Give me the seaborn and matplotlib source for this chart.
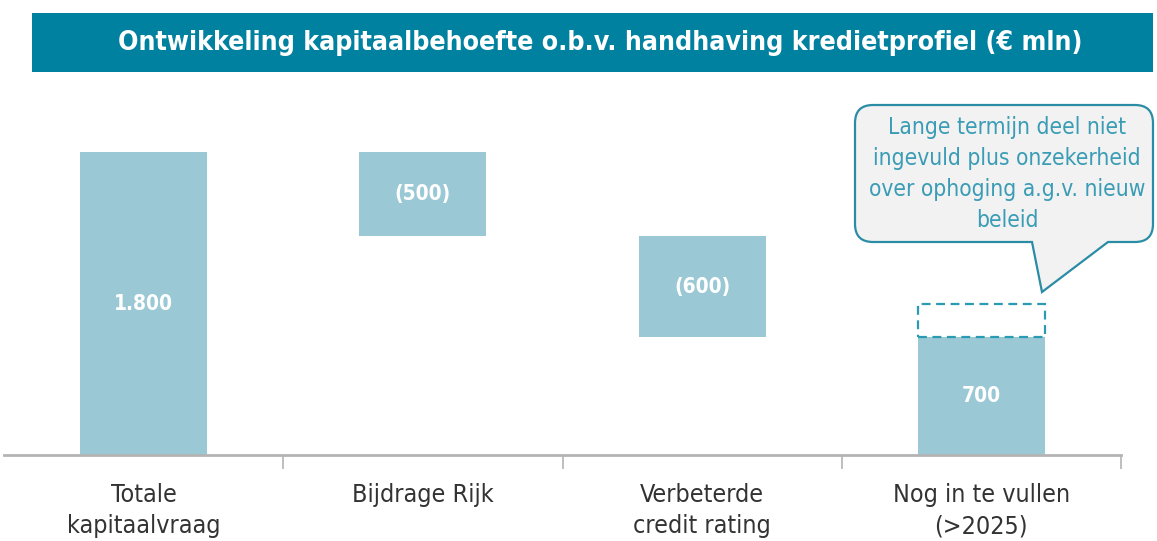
import matplotlib
matplotlib.use("Agg")
import matplotlib.pyplot as plt
from matplotlib.path import Path
from matplotlib.patches import PathPatch, Rectangle
import seaborn as sns
import pandas as pd

# ---- data ----
categories = ["Totale\nkapitaalvraag", "Bijdrage Rijk", "Verbeterde\ncredit rating", "Nog in te vullen\n(>2025)"]
values = [1800, -500, -600, 700]
value_labels = ["1.800", "(500)", "(600)", "700"]
uncertain_extra = 200
title = "Ontwikkeling kapitaalbehoefte o.b.v. handhaving kredietprofiel (€ mln)"
callout = "Lange termijn deel niet\ningevuld plus onzekerheid\nover ophoging a.g.v. nieuw\nbeleid"

# waterfall geometry derived from values
bottoms, tops = [], []
running = 0
for i, v in enumerate(values):
    if i == 0 or i == len(values) - 1:
        b, t = 0, abs(v)
        running = abs(v)
    else:
        t = running
        b = running + v
        running = b
    bottoms.append(b)
    tops.append(t)

df = pd.DataFrame({"cat": categories, "top": tops, "bottom": bottoms})

sns.set_theme(style="white")
plt.rcParams["font.family"] = ["DejaVu Sans"]

W, H = 1157, 541
fig = plt.figure(figsize=(W / 100, H / 100), dpi=100)
ax = fig.add_axes([4 / W, 1 - 455 / H, 1117 / W, (455 - 80) / H])

bar_color = "#9AC9D5"
teal = "#0081A0"
sns.barplot(data=df, x="cat", y="top", color=bar_color, width=0.455,
            saturation=1, linewidth=0, ax=ax)
sns.barplot(data=df, x="cat", y="bottom", color="white", width=0.455,
            saturation=1, linewidth=0, ax=ax)

# dashed uncertainty box on last bar
last = len(values) - 1
ax.bar(last, uncertain_extra, bottom=tops[last], width=0.455, fill=False,
       edgecolor="#2A9BB3", linestyle=(0, (4, 2.5)), linewidth=1.6, zorder=3)

# value labels
for i, (b, t, lab) in enumerate(zip(bottoms, tops, value_labels)):
    ax.text(i, (b + t) / 2, lab, ha="center", va="center", color="white",
            fontsize=15, fontweight="bold", fontstretch="condensed")

ax.set_xlim(-0.5, len(values) - 0.5)
ax.set_ylim(0, 2228)
ax.set_xlabel("")
ax.set_ylabel("")
ax.set_yticks([])
for s in ["left", "right", "top"]:
    ax.spines[s].set_visible(False)
ax.spines["bottom"].set_color("#B4B4B4")
ax.spines["bottom"].set_linewidth(2)
ax.set_xticks(range(len(categories)))
ax.set_xticklabels(categories, fontsize=18, color="#333333", linespacing=1.4,
                   fontstretch="condensed")
ax.tick_params(axis="x", which="major", length=0, pad=20)
ax.set_xticks([i + 0.5 for i in range(len(categories))], minor=True)
ax.tick_params(axis="x", which="minor", length=10, width=1.2, color="#B4B4B4",
               bottom=True, direction="out")

# title band
def fx(x):
    return x / W
def fy(y):
    return 1 - y / H

fig.patches.append(Rectangle((fx(32), fy(72)), fx(1153) - fx(32), fy(13) - fy(72),
                             transform=fig.transFigure, facecolor=teal,
                             edgecolor="none"))
fig.text(fx(600), fy(43), title, ha="center", va="center", color="white",
         fontsize=19.2, fontweight="bold", fontstretch="condensed")

# callout bubble
x0, x1, y0, y1, r = 855, 1153, 105, 242, 18
pts = [
    ((x0 + r, y0), Path.MOVETO),
    ((x1 - r, y0), Path.LINETO),
    ((x1, y0), Path.CURVE3), ((x1, y0 + r), Path.CURVE3),
    ((x1, y1 - r), Path.LINETO),
    ((x1, y1), Path.CURVE3), ((x1 - r, y1), Path.CURVE3),
    ((1108, y1), Path.LINETO),
    ((1042, 292), Path.LINETO),
    ((1032, y1), Path.LINETO),
    ((x0 + r, y1), Path.LINETO),
    ((x0, y1), Path.CURVE3), ((x0, y1 - r), Path.CURVE3),
    ((x0, y0 + r), Path.LINETO),
    ((x0, y0), Path.CURVE3), ((x0 + r, y0), Path.CURVE3),
    ((x0 + r, y0), Path.CLOSEPOLY),
]
verts = [(fx(p[0]), fy(p[1])) for p, _ in pts]
codes = [c for _, c in pts]
fig.patches.append(PathPatch(Path(verts, codes), transform=fig.transFigure,
                             facecolor="#F2F2F2", edgecolor="#2A8CA5", linewidth=1.6))
fig.text(fx(1007), fy(174), callout, ha="center", va="center", color="#3A9CB5",
         fontsize=16.3, linespacing=1.45, fontstretch="condensed")

fig.savefig("out.png", dpi=100)
